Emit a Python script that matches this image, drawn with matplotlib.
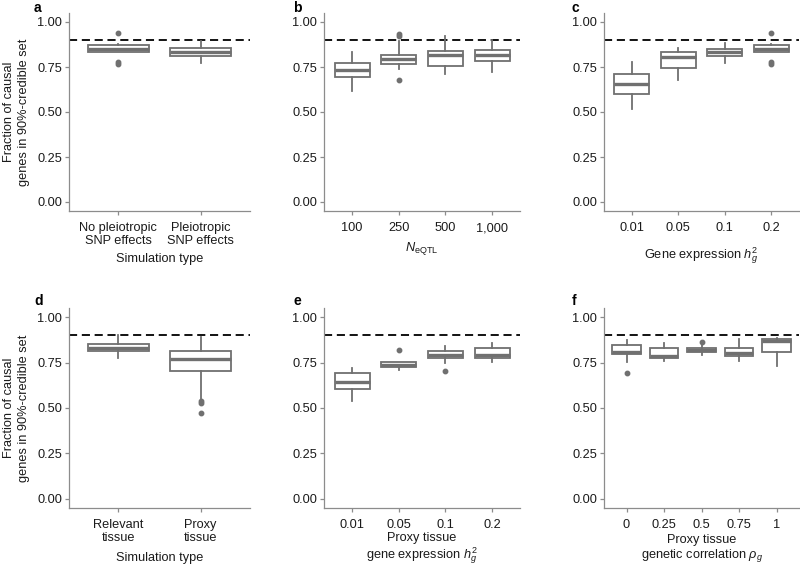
import matplotlib.pyplot as plt

plt.rcParams['font.family'] = ['Liberation Sans', 'DejaVu Sans']
plt.rcParams['mathtext.fontset'] = 'custom'
plt.rcParams['mathtext.rm'] = 'Liberation Sans'
plt.rcParams['mathtext.it'] = 'Liberation Sans:italic'

# a: simulation type
a_labels = ['No pleiotropic\nSNP effects', 'Pleiotropic\nSNP effects']
a_low = [0.832, 0.774]
a_q1 = [0.835, 0.813]
a_med = [0.852, 0.833]
a_q3 = [0.871, 0.854]
a_high = [0.878, 0.896]
a_out = [[0.939, 0.78, 0.765], []]

# b: eQTL sample size
b_labels = ['100', '250', '500', '1,000']
b_low = [0.615, 0.739, 0.711, 0.722]
b_q1 = [0.694, 0.765, 0.757, 0.785]
b_med = [0.733, 0.793, 0.815, 0.819]
b_q3 = [0.772, 0.817, 0.839, 0.843]
b_high = [0.835, 0.895, 0.922, 0.900]
b_out = [[], [0.933, 0.920, 0.676], [], []]

# c: gene expression h2
c_labels = ['0.01', '0.05', '0.1', '0.2']
c_low = [0.517, 0.676, 0.770, 0.832]
c_q1 = [0.600, 0.744, 0.813, 0.835]
c_med = [0.657, 0.804, 0.831, 0.852]
c_q3 = [0.713, 0.835, 0.850, 0.871]
c_high = [0.780, 0.857, 0.885, 0.878]
c_out = [[], [], [], [0.939, 0.78, 0.765]]

# d: relevant vs proxy tissue
d_labels = ['Relevant\ntissue', 'Proxy\ntissue']
d_low = [0.775, 0.551]
d_q1 = [0.812, 0.705]
d_med = [0.832, 0.768]
d_q3 = [0.853, 0.816]
d_high = [0.900, 0.888]
d_out = [[], [0.541, 0.527, 0.470]]

# e: proxy tissue h2
e_labels = ['0.01', '0.05', '0.1', '0.2']
e_low = [0.536, 0.707, 0.748, 0.755]
e_q1 = [0.604, 0.724, 0.775, 0.773]
e_med = [0.643, 0.737, 0.794, 0.792]
e_q3 = [0.694, 0.753, 0.812, 0.829]
e_high = [0.720, 0.755, 0.843, 0.855]
e_out = [[], [0.818], [0.705], []]

# f: proxy tissue genetic correlation
f_labels = ['0', '0.25', '0.5', '0.75', '1']
f_low = [0.755, 0.757, 0.794, 0.757, 0.731]
f_q1 = [0.796, 0.775, 0.807, 0.785, 0.808]
f_med = [0.808, 0.788, 0.819, 0.805, 0.867]
f_q3 = [0.849, 0.829, 0.830, 0.829, 0.878]
f_high = [0.873, 0.855, 0.851, 0.877, 0.884]
f_out = [[0.694], [], [0.864], [], []]

EDGE = '#707070'
AXC = '#8c8c8c'
FS = 9.2
LFS = 9.2


def panel(rect, letter, letter_xy, labels, low, q1, med, q3, high, out, xlabel, xlab_y, ylabel=False):
    ax = fig.add_axes(rect)
    stats = []
    for i in range(len(labels)):
        stats.append(dict(whislo=low[i], q1=q1[i], med=med[i], q3=q3[i],
                          whishi=high[i], fliers=out[i]))
    ax.bxp(stats, positions=range(1, len(labels) + 1), widths=0.75,
           showcaps=False, patch_artist=True,
           boxprops=dict(facecolor='white', edgecolor=EDGE, linewidth=1.3),
           medianprops=dict(color=EDGE, linewidth=2.4),
           whiskerprops=dict(color=EDGE, linewidth=1.3),
           flierprops=dict(marker='o', markerfacecolor=EDGE, markeredgecolor=EDGE,
                           markersize=3.2, linestyle='none'))
    ax.axhline(0.9, color='black', linestyle=(0, (4.5, 2.6)), linewidth=1.3, zorder=0)
    ax.set_xlim(0.4, len(labels) + 0.6)
    ax.set_ylim(-0.05, 1.05)
    ax.set_yticks([0, 0.25, 0.5, 0.75, 1.0])
    ax.set_yticklabels(['0.00', '0.25', '0.50', '0.75', '1.00'])
    ax.set_xticks(range(1, len(labels) + 1))
    ax.set_xticklabels(labels, linespacing=1.1)
    for s in ['top', 'right']:
        ax.spines[s].set_visible(False)
    for s in ['left', 'bottom']:
        ax.spines[s].set_color(AXC)
        ax.spines[s].set_linewidth(0.9)
    ax.tick_params(colors=AXC, labelcolor='#1a1a1a', labelsize=FS, length=3, width=0.9)
    ax.tick_params(axis='x', pad=5)
    ax.tick_params(axis='y', pad=2)
    ax.set_xlabel(xlabel, fontsize=LFS, color='#1a1a1a', va='center', linespacing=1.15)
    ax.xaxis.set_label_coords(0.5, xlab_y)
    if ylabel:
        ax.set_ylabel('Fraction of causal\ngenes in 90%-credible set', fontsize=LFS,
                      color='#1a1a1a', va='center', linespacing=1.3)
        ax.yaxis.set_label_coords(-0.29, 0.5)
    fig.text(letter_xy[0] / 800, 1 - letter_xy[1] / 565, letter, fontsize=10,
             fontweight='bold', va='center', ha='left')
    return ax


fig = plt.figure(figsize=(8, 5.65), dpi=100)

top_b, top_h = 1 - 211 / 565, 198 / 565
bot_b, bot_h = 1 - 508 / 565, 200 / 565

panel([69 / 800, top_b, 181 / 800, top_h], 'a', (34, 8), a_labels, a_low, a_q1, a_med, a_q3,
      a_high, a_out, 'Simulation type', -0.24, ylabel=True)
panel([324 / 800, top_b, 196 / 800, top_h], 'b', (293, 8), b_labels, b_low, b_q1, b_med, b_q3,
      b_high, b_out, r'$N_{\mathrm{eQTL}}$', -0.187)
panel([604 / 800, top_b, 195 / 800, top_h], 'c', (572, 8), c_labels, c_low, c_q1, c_med, c_q3,
      c_high, c_out, r'Gene expression $h_g^2$', -0.225)
panel([69 / 800, bot_b, 181 / 800, bot_h], 'd', (34, 301), d_labels, d_low, d_q1, d_med, d_q3,
      d_high, d_out, 'Simulation type', -0.25, ylabel=True)
panel([324 / 800, bot_b, 196 / 800, bot_h], 'e', (293, 301), e_labels, e_low, e_q1, e_med, e_q3,
      e_high, e_out, 'Proxy tissue\n' + r'gene expression $h_g^2$', -0.205)
panel([604 / 800, bot_b, 195 / 800, bot_h], 'f', (572, 301), f_labels, f_low, f_q1, f_med, f_q3,
      f_high, f_out, 'Proxy tissue\n' + r'genetic correlation $\rho_g$', -0.205)

fig.savefig('out.png', dpi=100)
plt.close(fig)
